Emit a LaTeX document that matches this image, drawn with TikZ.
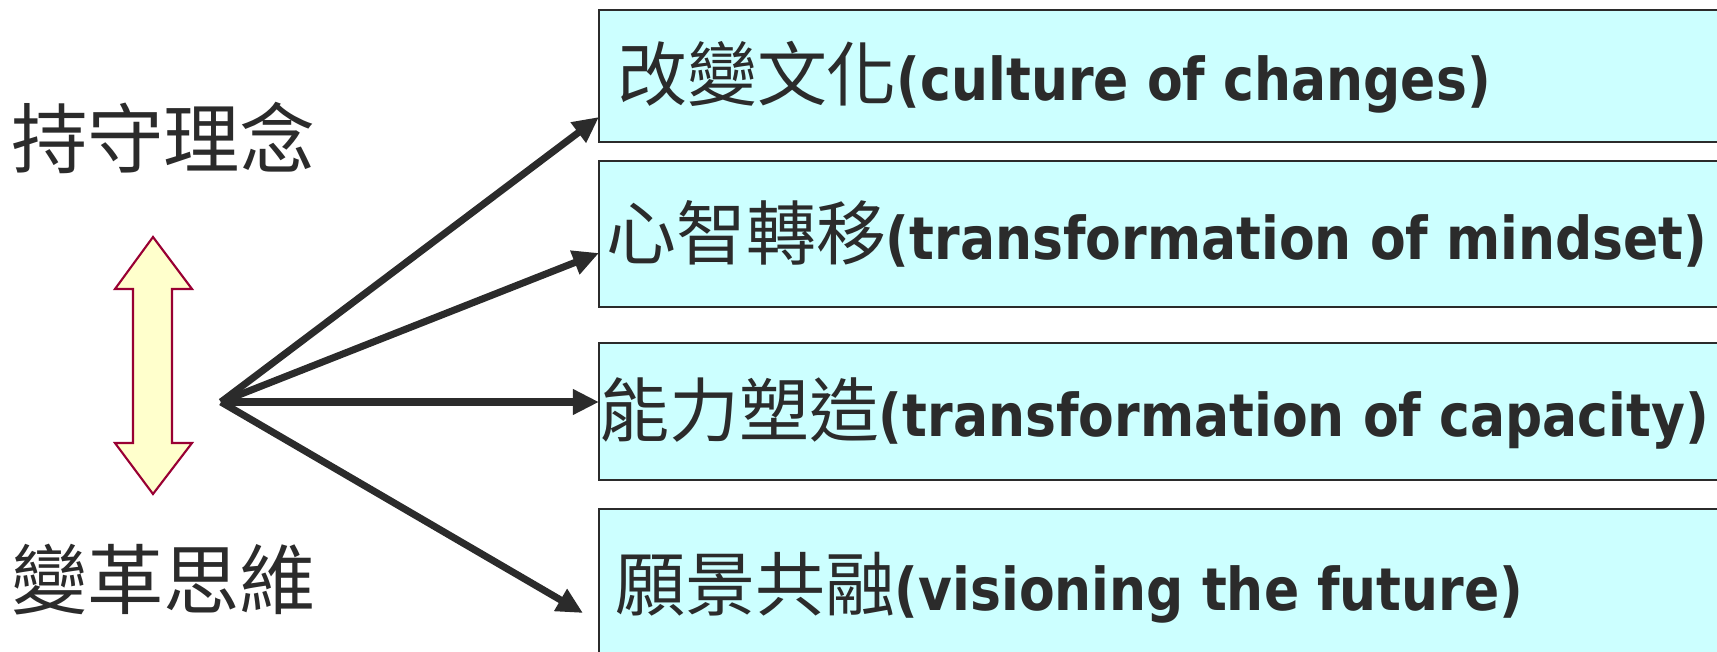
\documentclass[tikz,border=0pt]{standalone}
\usepackage{fontspec}
\usetikzlibrary{arrows.meta,positioning,calc}
\newfontfamily\cjkfont{Noto Sans CJK TC}
\newfontfamily\engfont[FakeStretch=0.88]{DejaVu Sans}
\definecolor{ink}{HTML}{2B2B2B}
\definecolor{boxfill}{HTML}{CCFFFF}
\definecolor{arrowfill}{HTML}{FFFFCC}
\definecolor{arrowline}{HTML}{990033}
\newcommand{\tasklabel}[2]{{\cjkfont\fontsize{19.9}{24}\selectfont #1}{\engfont\bfseries\fontsize{16.8}{20}\selectfont #2}}

\begin{document}
\begin{tikzpicture}[x=0.01cm,y=0.01cm,line width=0.6pt,
	task/.style={draw=ink,fill=boxfill,rectangle,minimum width=12cm,anchor=north west,inner sep=0pt,outer sep=0pt},
	tasktext/.style={text=ink,anchor=base west,inner sep=0pt},
	idea/.style={text=ink,anchor=west,inner sep=0pt,font=\cjkfont\fontsize{21.7}{26}\selectfont},
	link/.style={draw=ink,line width=2pt,-{Triangle[length=0.26cm,width=0.24cm]}}]
  \useasboundingbox (0,0) rectangle (1717,651);
  \clip (0,0) rectangle (1717,651);

  \node[idea]	(keep)	at (10,513)	{持守理念};
  \node[idea]	(change)	at (10,71)	{變革思維};

  \draw[draw=arrowline,fill=arrowfill] (153,414) -- (192,362) -- (172,362) -- (172,208) -- (192,208)
	-- (153,157) -- (115,208) -- (133,208) -- (133,362) -- (115,362) -- cycle;

  \node[task,minimum height=1.32cm]	(box1)	at (599,641)	{};
  \node[task,minimum height=1.46cm]	(box2)	at (599,490)	{};
  \node[task,minimum height=1.37cm]	(box3)	at (599,308)	{};
  \node[task,minimum height=1.50cm]	(box4)	at (599,142)	{};

  \node[tasktext]	(lab1)	at ($(box1.north west)+(17,-91)$)	{\tasklabel{改變文化}{(culture of changes)}};
  \node[tasktext]	(lab2)	at ($(box2.north west)+(6,-99)$)	{\tasklabel{心智轉移}{(transformation of mindset)}};
  \node[tasktext]	(lab3)	at ($(box3.north west)+(-1,-94)$)	{\tasklabel{能力塑造}{(transformation of capacity)}};
  \node[tasktext]	(lab4)	at ($(box4.north west)+(15,-101)$)	{\tasklabel{願景共融}{(visioning the future)}};

  \coordinate (hub) at (221,249);
  \coordinate (t1) at (599,534);
  \coordinate (t2) at (599,398);
  \coordinate (t3) at (599,249);
  \coordinate (t4) at (583,38);

  \path	(hub) edge[link] (t1)
	(hub) edge[link] (t2)
	(hub) edge[link] (t3)
	(hub) edge[link] (t4);
\end{tikzpicture}
\end{document}
